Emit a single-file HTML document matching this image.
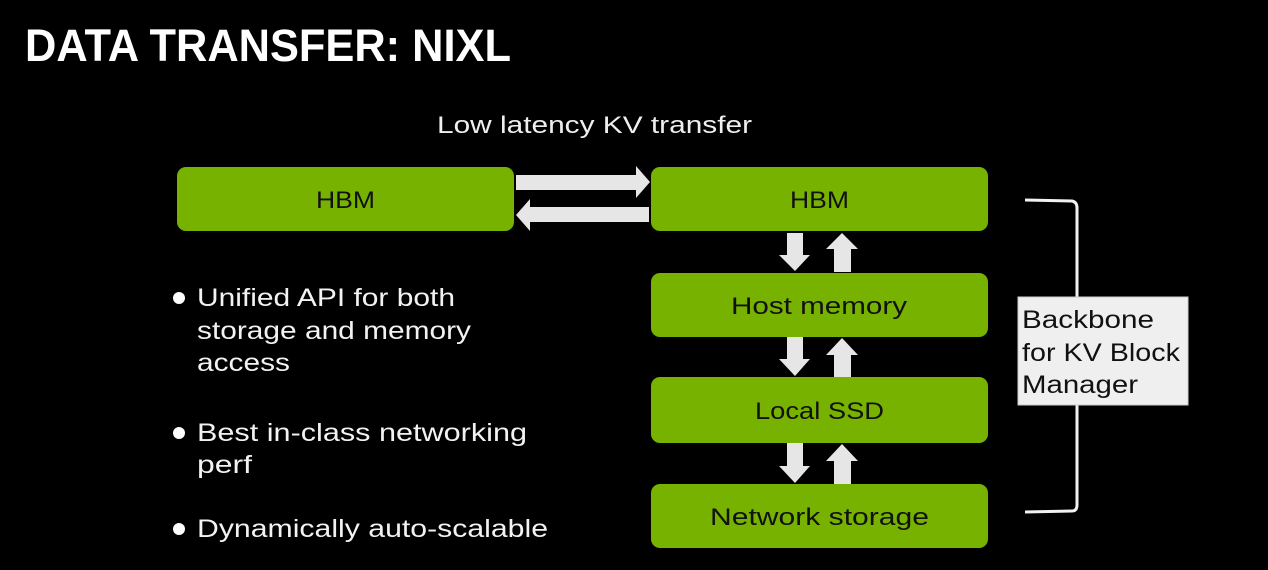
<!DOCTYPE html>
<html><head><meta charset="utf-8"><style>
html,body{margin:0;padding:0;background:#000;}
svg{display:block;}
text{font-family:"Liberation Sans",sans-serif;}
</style></head><body>
<svg width="1268" height="570" viewBox="0 0 1268 570" xmlns="http://www.w3.org/2000/svg">
<rect width="1268" height="570" fill="#000"/>
<text x="25" y="61" font-size="45" font-weight="bold" fill="#fff" textLength="486" lengthAdjust="spacingAndGlyphs">DATA TRANSFER: NIXL</text>
<text x="437" y="133" font-size="24" fill="#eee" textLength="315" lengthAdjust="spacingAndGlyphs">Low latency KV transfer</text>

<g fill="#78b200">
<rect x="177" y="167" width="337" height="64" rx="9"/>
<rect x="651" y="167" width="337" height="64" rx="9"/>
<rect x="651" y="273" width="337" height="64" rx="9"/>
<rect x="651" y="377" width="337" height="66" rx="9"/>
<rect x="651" y="484" width="337" height="64" rx="9"/>
</g>
<g fill="#111" font-size="24" lengthAdjust="spacingAndGlyphs">
<text x="316" y="208" textLength="59" lengthAdjust="spacingAndGlyphs">HBM</text>
<text x="790" y="208" textLength="59" lengthAdjust="spacingAndGlyphs">HBM</text>
<text x="731" y="314" textLength="176" lengthAdjust="spacingAndGlyphs">Host memory</text>
<text x="755" y="419" textLength="129" lengthAdjust="spacingAndGlyphs">Local SSD</text>
<text x="710" y="525" textLength="219" lengthAdjust="spacingAndGlyphs">Network storage</text>
</g>

<g fill="#e6e6e6">
<polygon points="516,175 636,175 636,166 650,182 636,198 636,190 516,190"/>
<polygon points="649,207 530,207 530,199 516,215 530,231 530,222 649,222"/>
<polygon points="787,233 803,233 803,255 810,255 795,271 779,255 787,255"/>
<polygon points="834,272 851,272 851,249 858,249 842,233 826,249 834,249"/>
<polygon points="787,337 803,337 803,359 810,359 795,376 779,359 787,359"/>
<polygon points="834,377 851,377 851,355 858,355 842,338 826,355 834,355"/>
<polygon points="787,443 803,443 803,466 810,466 795,483 779,466 787,466"/>
<polygon points="834,484 851,484 851,461 858,461 842,444 826,461 834,461"/>
</g>

<path d="M1025,200 L1072,201 Q1077,202 1077,208 L1077,505 Q1077,511 1072,511 L1025,512" fill="none" stroke="#f2f2f2" stroke-width="3"/>
<rect x="1018" y="297" width="170" height="108" fill="#efefef" stroke="#ccc" stroke-width="1"/>
<g fill="#111" font-size="25">
<text x="1022" y="328" textLength="132" lengthAdjust="spacingAndGlyphs">Backbone</text>
<text x="1022" y="361" textLength="158" lengthAdjust="spacingAndGlyphs">for KV Block</text>
<text x="1022" y="393" textLength="116" lengthAdjust="spacingAndGlyphs">Manager</text>
</g>

<g fill="#fff">
<circle cx="179" cy="298" r="6"/>
<circle cx="179" cy="433" r="6"/>
<circle cx="179" cy="529" r="6"/>
</g>
<g fill="#f2f2f2" font-size="25">
<text x="197" y="306" textLength="258" lengthAdjust="spacingAndGlyphs">Unified API for both</text>
<text x="197" y="339" textLength="274" lengthAdjust="spacingAndGlyphs">storage and memory</text>
<text x="197" y="371" textLength="93" lengthAdjust="spacingAndGlyphs">access</text>
<text x="197" y="441" textLength="330" lengthAdjust="spacingAndGlyphs">Best in-class networking</text>
<text x="197" y="473" textLength="55" lengthAdjust="spacingAndGlyphs">perf</text>
<text x="197" y="537" textLength="351" lengthAdjust="spacingAndGlyphs">Dynamically auto-scalable</text>
</g>
</svg>
</body></html>
